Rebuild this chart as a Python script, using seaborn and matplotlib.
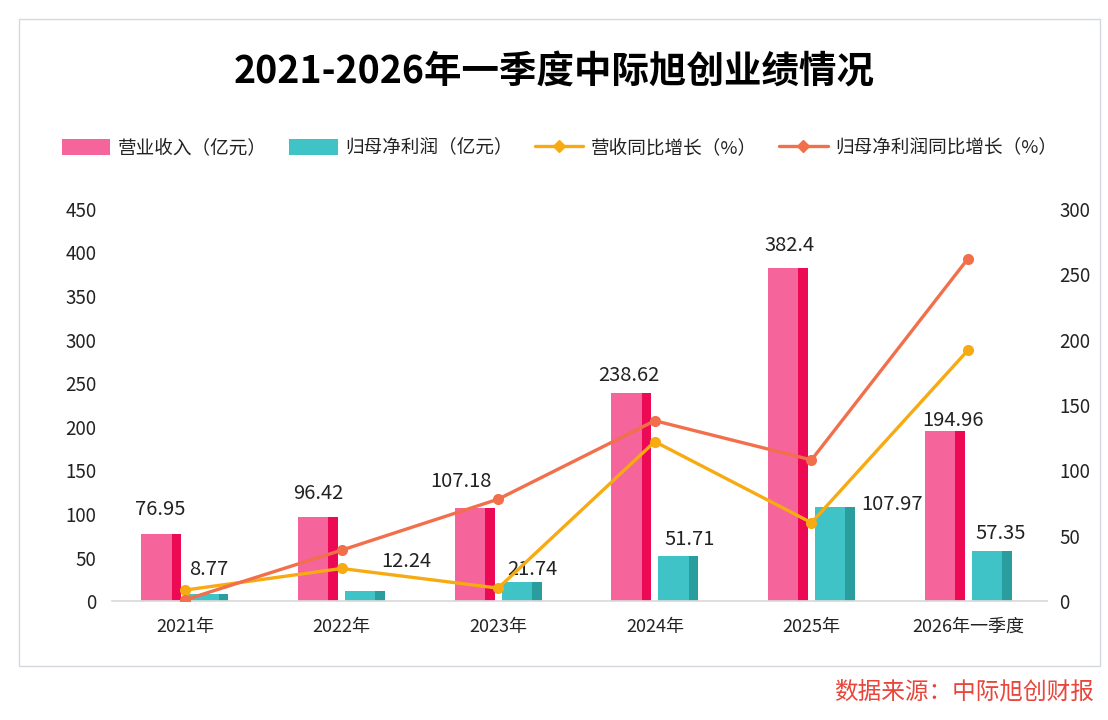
import matplotlib
matplotlib.use("Agg")
import matplotlib.pyplot as plt
import seaborn as sns
import pandas as pd
from matplotlib.patches import Patch, Rectangle
from matplotlib.lines import Line2D

# data
categories = ["2021年", "2022年", "2023年", "2024年", "2025年", "2026年一季度"]
revenue = [76.95, 96.42, 107.18, 238.62, 382.4, 194.96]        # 营业收入（亿元）
net_profit = [8.77, 12.24, 21.74, 51.71, 107.97, 57.35]        # 归母净利润（亿元）
revenue_yoy = [8.5, 25, 10, 122, 60, 192]                      # 营收同比增长（%）
profit_yoy = [1, 39, 78, 138, 108, 262]                        # 归母净利润同比增长（%）

rev_label_off = [(-1, 25), (0, 24), (-14, 26), (-3, 18), (2, 22), (8, 11)]
np_label_off = [(0, 24), (41, 29), (11, 13), (11, 17), (57, 3), (9, 18)]

PINK, PINK_DARK = "#F5649A", "#EC0A55"
TEAL, TEAL_DARK = "#40C3C6", "#2A9E9E"
YELLOW, ORANGE = "#F7AA12", "#F26F4B"
TEXT = "#222222"

sns.set_theme(style="white")
plt.rcParams["font.family"] = ["Noto Sans CJK SC", "DejaVu Sans"]
plt.rcParams["axes.unicode_minus"] = False

df = pd.DataFrame({
    "cat": categories * 2,
    "series": ["营业收入（亿元）"] * 6 + ["归母净利润（亿元）"] * 6,
    "value": revenue + net_profit,
})

fig = plt.figure(figsize=(11.08, 7.2), dpi=100)
fig.patch.set_facecolor("white")
ax = fig.add_axes([0.101, 0.165, 0.844, 0.545])

sns.barplot(data=df, x="cat", y="value", hue="series", order=categories,
            palette=[PINK, TEAL], width=0.6, gap=0.15, ax=ax,
            legend=False, saturation=1)

# fake 3d side on each bar
for cont, dark in zip(ax.containers, [PINK_DARK, TEAL_DARK]):
    for rect in cont:
        x, w, h = rect.get_x(), rect.get_width(), rect.get_height()
        rect.set_edgecolor("none")
        ax.add_patch(Rectangle((x + w * 0.76, 0), w * 0.24, h,
                               facecolor=dark, edgecolor="none", zorder=rect.get_zorder()))

# value labels
for cont, vals, offs in zip(ax.containers, [revenue, net_profit],
                            [rev_label_off, np_label_off]):
    for rect, v, (dx, dy) in zip(cont, vals, offs):
        ax.annotate(f"{v:g}", (rect.get_x() + rect.get_width() / 2, v),
                    xytext=(dx, dy), textcoords="offset pixels",
                    ha="center", va="center", fontsize=14.5, color=TEXT)

ax.set_ylim(0, 450)
ax.set_yticks(range(0, 451, 50))
ax.set_xlim(-0.466, 5.504)
ax.set_xlabel("")
ax.set_ylabel("")
for s in ["left", "right", "top"]:
    ax.spines[s].set_visible(False)
ax.spines["bottom"].set_color("#D9D9D9")
ax.tick_params(axis="y", length=0, pad=11, labelsize=13.5, labelcolor=TEXT)
ax.tick_params(axis="x", length=0, pad=12, labelsize=13, labelcolor=TEXT)

ax2 = ax.twinx()
xs = list(range(len(categories)))
sns.lineplot(x=xs, y=revenue_yoy, ax=ax2, color=YELLOW, lw=2.4,
             marker="o", markersize=8, markeredgewidth=0)
sns.lineplot(x=xs, y=profit_yoy, ax=ax2, color=ORANGE, lw=2.4,
             marker="o", markersize=8, markeredgewidth=0)
ax2.set_ylim(0, 300)
ax2.set_yticks(range(0, 301, 50))
ax2.set_xlim(-0.466, 5.504)
for s in ["left", "right", "top", "bottom"]:
    ax2.spines[s].set_visible(False)
ax2.tick_params(axis="y", length=0, pad=9, labelsize=13.5, labelcolor=TEXT)
ax2.grid(False)
ax.grid(False)

handles = [
    Patch(facecolor=PINK, edgecolor="none"),
    Patch(facecolor=TEAL, edgecolor="none"),
    Line2D([], [], color=YELLOW, lw=2.4, marker="D", markersize=6),
    Line2D([], [], color=ORANGE, lw=2.4, marker="D", markersize=6),
]
labels = ["营业收入（亿元）", "归母净利润（亿元）", "营收同比增长（%）", "归母净利润同比增长（%）"]
fig.legend(handles, labels, loc="center", bbox_to_anchor=(0.505, 0.794), ncol=4,
           frameon=False, fontsize=13.4, handlelength=2.6, handleheight=0.9,
           columnspacing=1.2, handletextpad=0.4, labelcolor=TEXT)

fig.text(0.5, 0.9, "2021-2026年一季度中际旭创业绩情况", ha="center", va="center",
         fontsize=27, fontweight="bold", color="#000000")

fig.patches.append(Rectangle((0.017, 0.075), 0.976, 0.899, transform=fig.transFigure,
                             facecolor="none", edgecolor="#D5D8DE", lw=1))

fig.text(0.987, 0.039, "数据来源：中际旭创财报", ha="right", va="center",
         fontsize=17, color="#E8453C")

fig.savefig("out.png", dpi=100, facecolor="white")
